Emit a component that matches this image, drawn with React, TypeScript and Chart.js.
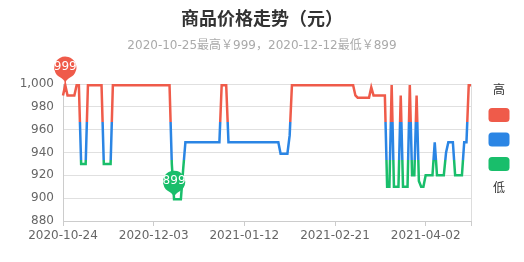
import React, { useEffect, useRef } from 'react';
import { Chart, registerables } from 'chart.js';

Chart.register(...registerables);

const TITLE = '商品价格走势（元）';
const SUBTITLE = '2020-10-25最高￥999，2020-12-12最低￥899';
const START_DATE = '2020-10-24';
const TICK_LABELS = ['2020-10-24', '2020-12-03', '2021-01-12', '2021-02-21', '2021-04-02'];
const LEGEND_HIGH = '高';
const LEGEND_LOW = '低';

// daily prices from 2020-10-24 to 2021-04-22
const PRICES = [
  990, 999, 990, 990, 990, 990, 999, 999, 930, 930,
  930, 999, 999, 999, 999, 999, 999, 999, 930, 930,
  930, 930, 999, 999, 999, 999, 999, 999, 999, 999,
  999, 999, 999, 999, 999, 999, 999, 999, 999, 999,
  999, 999, 999, 999, 999, 999, 999, 999, 930, 899,
  899, 899, 899, 925, 949, 949, 949, 949, 949, 949,
  949, 949, 949, 949, 949, 949, 949, 949, 949, 949,
  999, 999, 999, 949, 949, 949, 949, 949, 949, 949,
  949, 949, 949, 949, 949, 949, 949, 949, 949, 949,
  949, 949, 949, 949, 949, 949, 939, 939, 939, 939,
  955, 999, 999, 999, 999, 999, 999, 999, 999, 999,
  999, 999, 999, 999, 999, 999, 999, 999, 999, 999,
  999, 999, 999, 999, 999, 999, 999, 999, 999, 990,
  988, 988, 988, 988, 988, 988, 997, 990, 990, 990,
  990, 990, 990, 910, 910, 999, 910, 910, 910, 990,
  910, 910, 910, 999, 920, 920, 990, 915, 910, 910,
  920, 920, 920, 920, 949, 920, 920, 920, 920, 940,
  949, 949, 949, 920, 920, 920, 920, 949, 949, 999,
  999,
];

const Y_MIN = 880;
const Y_MAX = 1000;
const Y_STEP = 20;

// visual map pieces: high / mid / low
const PIECE_COLORS = ['#ef5b4a', '#2b85e4', '#19be6b'];
const PIECE_RANGE = [900, 1000];

const FONT = "'DejaVu Sans', 'Noto Sans CJK SC', sans-serif";
const DAY = 86400000;
const startMs = Date.parse(START_DATE + 'T00:00:00Z');
const dayToDate = (d: number) => new Date(startMs + d * DAY).toISOString().slice(0, 10);
const dateToDay = (s: string) => Math.round((Date.parse(s + 'T00:00:00Z') - startMs) / DAY);

const bandStep = (PIECE_RANGE[1] - PIECE_RANGE[0]) / 3;
const HIGH_BOUND = PIECE_RANGE[1] - bandStep;
const LOW_BOUND = PIECE_RANGE[0] + bandStep;

const pieceColor = (v: number) => {
  if (v >= HIGH_BOUND) return PIECE_COLORS[0];
  if (v >= LOW_BOUND) return PIECE_COLORS[1];
  return PIECE_COLORS[2];
};

function pinPath(ctx: CanvasRenderingContext2D, x: number, y: number, width: number, height: number) {
  const w = (width / 5) * 3;
  const h = Math.max(w, height);
  const r = w / 2;
  const dy = (r * r) / (h - r);
  const cy = y - h + r + dy;
  const angle = Math.asin(dy / r);
  const dx = Math.cos(angle) * r;
  const tanX = Math.sin(angle);
  const tanY = Math.cos(angle);
  const cpLen = r * 0.6;
  const cpLen2 = r * 0.7;
  ctx.beginPath();
  ctx.moveTo(x - dx, cy + dy);
  ctx.arc(x, cy, r, Math.PI - angle, Math.PI * 2 + angle);
  ctx.bezierCurveTo(x + dx - tanX * cpLen, cy + dy + tanY * cpLen, x, y - cpLen2, x, y);
  ctx.bezierCurveTo(x, y - cpLen2, x - dx + tanX * cpLen, cy + dy + tanY * cpLen, x - dx, cy + dy);
  ctx.closePath();
  return cy;
}

const decorPlugin = {
  id: 'decor',
  beforeDatasetsDraw(chart: any) {
    const { ctx, chartArea } = chart;
    ctx.save();
    ctx.strokeStyle = '#ddd';
    ctx.lineWidth = 1;
    ctx.beginPath();
    ctx.moveTo(Math.round(chartArea.right) + 0.5, chartArea.top);
    ctx.lineTo(Math.round(chartArea.right) + 0.5, chartArea.bottom);
    ctx.stroke();
    ctx.restore();
  },
  beforeDatasetDraw(chart: any, args: any) {
    const { ctx, scales, width, height } = chart;
    const el = args.meta.dataset;
    if (!el) return;
    const yHigh = scales.y.getPixelForValue(HIGH_BOUND);
    const yLow = scales.y.getPixelForValue(LOW_BOUND);
    const bands: [number, number, string][] = [
      [0, yHigh, PIECE_COLORS[0]],
      [yHigh, yLow, PIECE_COLORS[1]],
      [yLow, height, PIECE_COLORS[2]],
    ];
    bands.forEach(([t, b, c]) => {
      ctx.save();
      ctx.beginPath();
      ctx.rect(0, t, width, b - t);
      ctx.clip();
      el.options.borderColor = c;
      el.draw(ctx, chart.chartArea);
      ctx.restore();
    });
    return false;
  },
  afterDatasetsDraw(chart: any) {
    const { ctx, scales } = chart;
    const maxV = Math.max(...PRICES);
    const minV = Math.min(...PRICES);
    const marks = [PRICES.indexOf(maxV), PRICES.indexOf(minV)];
    ctx.save();
    marks.forEach((i) => {
      const v = PRICES[i];
      const px = scales.x.getPixelForValue(i);
      const py = scales.y.getPixelForValue(v);
      const cy = pinPath(ctx, px, py, 37, 34);
      ctx.fillStyle = pieceColor(v);
      ctx.fill();
      ctx.fillStyle = '#fff';
      ctx.font = `12px ${FONT}`;
      ctx.textAlign = 'center';
      ctx.textBaseline = 'middle';
      ctx.fillText(String(v), px, cy - 1);
    });
    ctx.restore();
  },
  afterDraw(chart: any) {
    const { ctx } = chart;
    ctx.save();
    ctx.textAlign = 'center';
    ctx.textBaseline = 'middle';
    ctx.fillStyle = '#333';
    ctx.font = `bold 18px ${FONT}`;
    ctx.fillText(TITLE, 262, 20);
    ctx.fillStyle = '#aaa';
    ctx.font = `12px ${FONT}`;
    ctx.fillText(SUBTITLE, 262, 46);

    // visual map legend
    ctx.fillStyle = '#333';
    ctx.font = `12px ${FONT}`;
    ctx.fillText(LEGEND_HIGH, 499, 91);
    const boxX = 488.5;
    const boxYs = [108, 132.5, 157];
    PIECE_COLORS.forEach((c, k) => {
      ctx.fillStyle = c;
      ctx.beginPath();
      (ctx as any).roundRect(boxX, boxYs[k], 21, 14, 3.5);
      ctx.fill();
    });
    ctx.fillStyle = '#333';
    ctx.fillText(LEGEND_LOW, 499, 189);
    ctx.restore();
  },
};

export default function App() {
  const ref = useRef<HTMLCanvasElement | null>(null);
  useEffect(() => {
    if (!ref.current) return;
    const lastDay = PRICES.length - 1;
    const chart = new Chart(ref.current, {
      type: 'line',
      data: {
        datasets: [
          {
            data: PRICES.map((p, i) => ({ x: i, y: p })),
            borderColor: PIECE_COLORS[0],
            borderWidth: 2.5,
            pointRadius: 0,
            tension: 0,
            fill: false,
          },
        ],
      },
      options: {
        animation: false,
        responsive: false,
        maintainAspectRatio: false,
        layout: { padding: { top: 84, right: 53, left: 0, bottom: 0 } },
        plugins: { legend: { display: false }, tooltip: { enabled: false }, title: { display: false } },
        scales: {
          x: {
            type: 'linear',
            min: 0,
            max: lastDay,
            afterBuildTicks: (s: any) => {
              s.ticks = [...TICK_LABELS.map(dateToDay), lastDay].map((v) => ({ value: v }));
            },
            afterFit: (s: any) => {
              s.height = 41;
            },
            grid: { drawOnChartArea: false, drawTicks: true, tickLength: 5, color: '#ccc' },
            border: { display: true, color: '#ccc' },
            ticks: {
              autoSkip: false,
              maxRotation: 0,
              padding: 3,
              color: '#666',
              font: { size: 12, family: FONT },
              callback: (v: any) => {
                const s = dayToDate(Number(v));
                return TICK_LABELS.includes(s) ? s : '';
              },
            },
          },
          y: {
            min: Y_MIN,
            max: Y_MAX,
            afterFit: (s: any) => {
              s.width = 63;
            },
            grid: { color: '#e0e0e0', drawTicks: false },
            border: { display: true, color: '#ccc' },
            ticks: { stepSize: Y_STEP, padding: 9, color: '#666', font: { size: 12, family: FONT } },
          },
        },
      },
      plugins: [decorPlugin],
    } as any);
    return () => chart.destroy();
  }, []);
  return (
    <div style={{ position: 'fixed', left: 0, top: 0, width: 524, height: 262, background: '#fff' }}>
      <canvas ref={ref} width={524} height={262} style={{ width: 524, height: 262, display: 'block' }} />
    </div>
  );
}
